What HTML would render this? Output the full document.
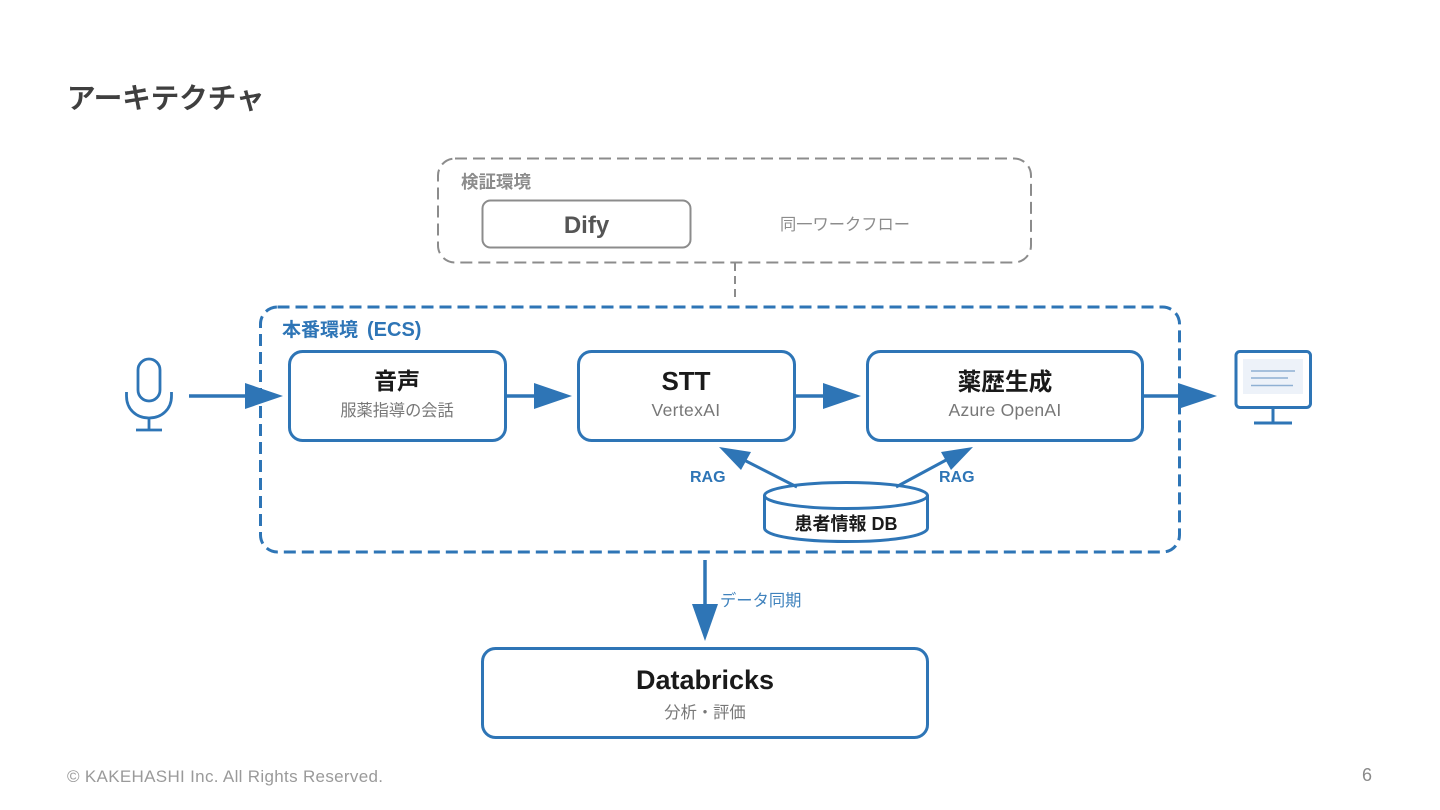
<!DOCTYPE html>
<html lang="ja">
<head>
<meta charset="utf-8">
<title>アーキテクチャ</title>
<style>
html,body{margin:0;padding:0;background:#fff;width:1440px;height:810px;overflow:hidden}
svg{display:block}
text{font-family:"Liberation Sans","Noto Sans CJK JP",sans-serif}
</style>
</head>
<body>
<svg width="1440" height="810" viewBox="0 0 1440 810" xmlns="http://www.w3.org/2000/svg">
<rect width="1440" height="810" fill="#fff"/>
<text x="67" y="108" font-size="28.500" font-weight="500" fill="#3f3f3f" stroke="#3f3f3f" stroke-width="0.600">アーキテクチャ</text>

<!-- staging -->
<rect x="438" y="158.500" width="593" height="104" rx="17" fill="none" stroke="#8c8c8c" stroke-width="2" stroke-dasharray="12 6"/>
<text x="461" y="188" font-size="17.500" font-weight="700" fill="#8c8c8c">検証環境</text>
<rect x="482.500" y="200.500" width="208" height="47" rx="8" fill="#fff" stroke="#8c8c8c" stroke-width="2"/>
<text x="586.500" y="233" font-size="24" font-weight="700" fill="#555" text-anchor="middle">Dify</text>
<text x="845" y="230" font-size="16.250" fill="#8c8c8c" text-anchor="middle">同一ワークフロー</text>
<line x1="735" y1="263" x2="735" y2="298" stroke="#8c8c8c" stroke-width="2" stroke-dasharray="8 5"/>

<!-- production -->
<rect x="260.500" y="307" width="919" height="245" rx="17" fill="none" stroke="#2e75b6" stroke-width="3" stroke-dasharray="12 6"/>
<text x="282" y="336" font-size="19" font-weight="700" fill="#2e75b6">本番環境<tspan dx="9" font-size="20">(ECS)</tspan></text>

<!-- boxes -->
<g fill="#fff" stroke="#2e75b6" stroke-width="3">
<rect x="289.500" y="351.500" width="216" height="89" rx="13"/>
<rect x="578.500" y="351.500" width="216" height="89" rx="13"/>
<rect x="867.500" y="351.500" width="275" height="89" rx="13"/>
<rect x="482.500" y="648.500" width="445" height="89" rx="13"/>
</g>
<g text-anchor="middle">
<text x="397" y="389" font-size="23" font-weight="700" fill="#1a1a1a">音声</text>
<text x="397" y="416" font-size="16.200" fill="#777">服薬指導の会話</text>
<text x="686" y="390" font-size="26" font-weight="700" fill="#1a1a1a">STT</text>
<text x="686" y="416" font-size="17.500" letter-spacing="0.350" fill="#777">VertexAI</text>
<text x="1005" y="390" font-size="23.700" font-weight="700" fill="#1a1a1a">薬歴生成</text>
<text x="1005" y="416" font-size="17.500" letter-spacing="0.250" fill="#777">Azure OpenAI</text>
<text x="705" y="689" font-size="27" font-weight="700" fill="#1a1a1a">Databricks</text>
<text x="705" y="718" font-size="16.300" fill="#777">分析・評価</text>
</g>

<!-- horizontal arrows -->
<g stroke="#2e75b6" stroke-width="3.500" fill="none">
<line x1="189" y1="396" x2="250" y2="396"/>
<line x1="505" y1="396" x2="540" y2="396"/>
<line x1="794" y1="396" x2="828" y2="396"/>
<line x1="1143" y1="396" x2="1184" y2="396"/>
<line x1="705" y1="560" x2="705" y2="610"/>
</g>
<g fill="#2e75b6">
<polygon points="245,383 283,396 245,409"/>
<polygon points="534,383 572,396 534,409"/>
<polygon points="823,383 861,396 823,409"/>
<polygon points="1178,383 1217,396 1178,409"/>
<polygon points="692,604 718,604 705,641"/>
</g>

<text x="720" y="606" font-size="16.300" fill="#3f82bd">データ同期</text>
<text x="690" y="482" font-size="16" font-weight="700" fill="#2e75b6">RAG</text>
<text x="939" y="482" font-size="16" font-weight="700" fill="#2e75b6">RAG</text>

<!-- database -->
<path d="M764.500 495 V528 C764.500 536 800 541.500 846 541.500 C892 541.500 927.500 536 927.500 528 V495" fill="#fff" stroke="#2e75b6" stroke-width="3"/>
<ellipse cx="846" cy="495.500" rx="81.500" ry="13" fill="#fff" stroke="#2e75b6" stroke-width="3"/>
<text x="846" y="530" font-size="18" font-weight="700" fill="#1a1a1a" text-anchor="middle">患者情報 DB</text>

<!-- RAG arrows, drawn over the cylinder top -->
<g stroke="#2e75b6" stroke-width="3" fill="none">
<line x1="797" y1="487" x2="742" y2="459"/>
<line x1="896" y1="487" x2="948" y2="459"/>
</g>
<g fill="#2e75b6">
<polygon points="719,447 751,452 741,470"/>
<polygon points="973,447 941,452 951,470"/>
</g>

<!-- mic -->
<g fill="none" stroke="#2e75b6" stroke-width="2.800">
<rect x="138" y="359" width="22" height="42" rx="11"/>
<path d="M126.500 392 V396 C126.500 409 136 418 149 418 C162 418 171.500 409 171.500 396 V392"/>
<line x1="149" y1="418" x2="149" y2="430"/>
<line x1="136" y1="430" x2="162" y2="430"/>
</g>

<!-- monitor -->
<rect x="1236" y="351.500" width="74.500" height="56" rx="4" fill="#fff" stroke="#2e75b6" stroke-width="3"/>
<rect x="1243" y="359" width="60" height="35" fill="#edf2f9"/>
<g stroke="#8fb0d3" stroke-width="1.500">
<line x1="1251" y1="371" x2="1295" y2="371"/>
<line x1="1251" y1="378" x2="1288" y2="378"/>
<line x1="1251" y1="385.500" x2="1293" y2="385.500"/>
</g>
<g stroke="#2e75b6" stroke-width="3" fill="none">
<line x1="1273" y1="408" x2="1273" y2="423"/>
<line x1="1254" y1="423" x2="1292" y2="423"/>
</g>

<!-- footer -->
<text x="67" y="782" font-size="17" letter-spacing="0.320" fill="#9a9a9a">© KAKEHASHI Inc. All Rights Reserved.</text>
<text x="1372" y="781" font-size="18" fill="#8a8a8a" text-anchor="end">6</text>
</svg>
</body>
</html>
